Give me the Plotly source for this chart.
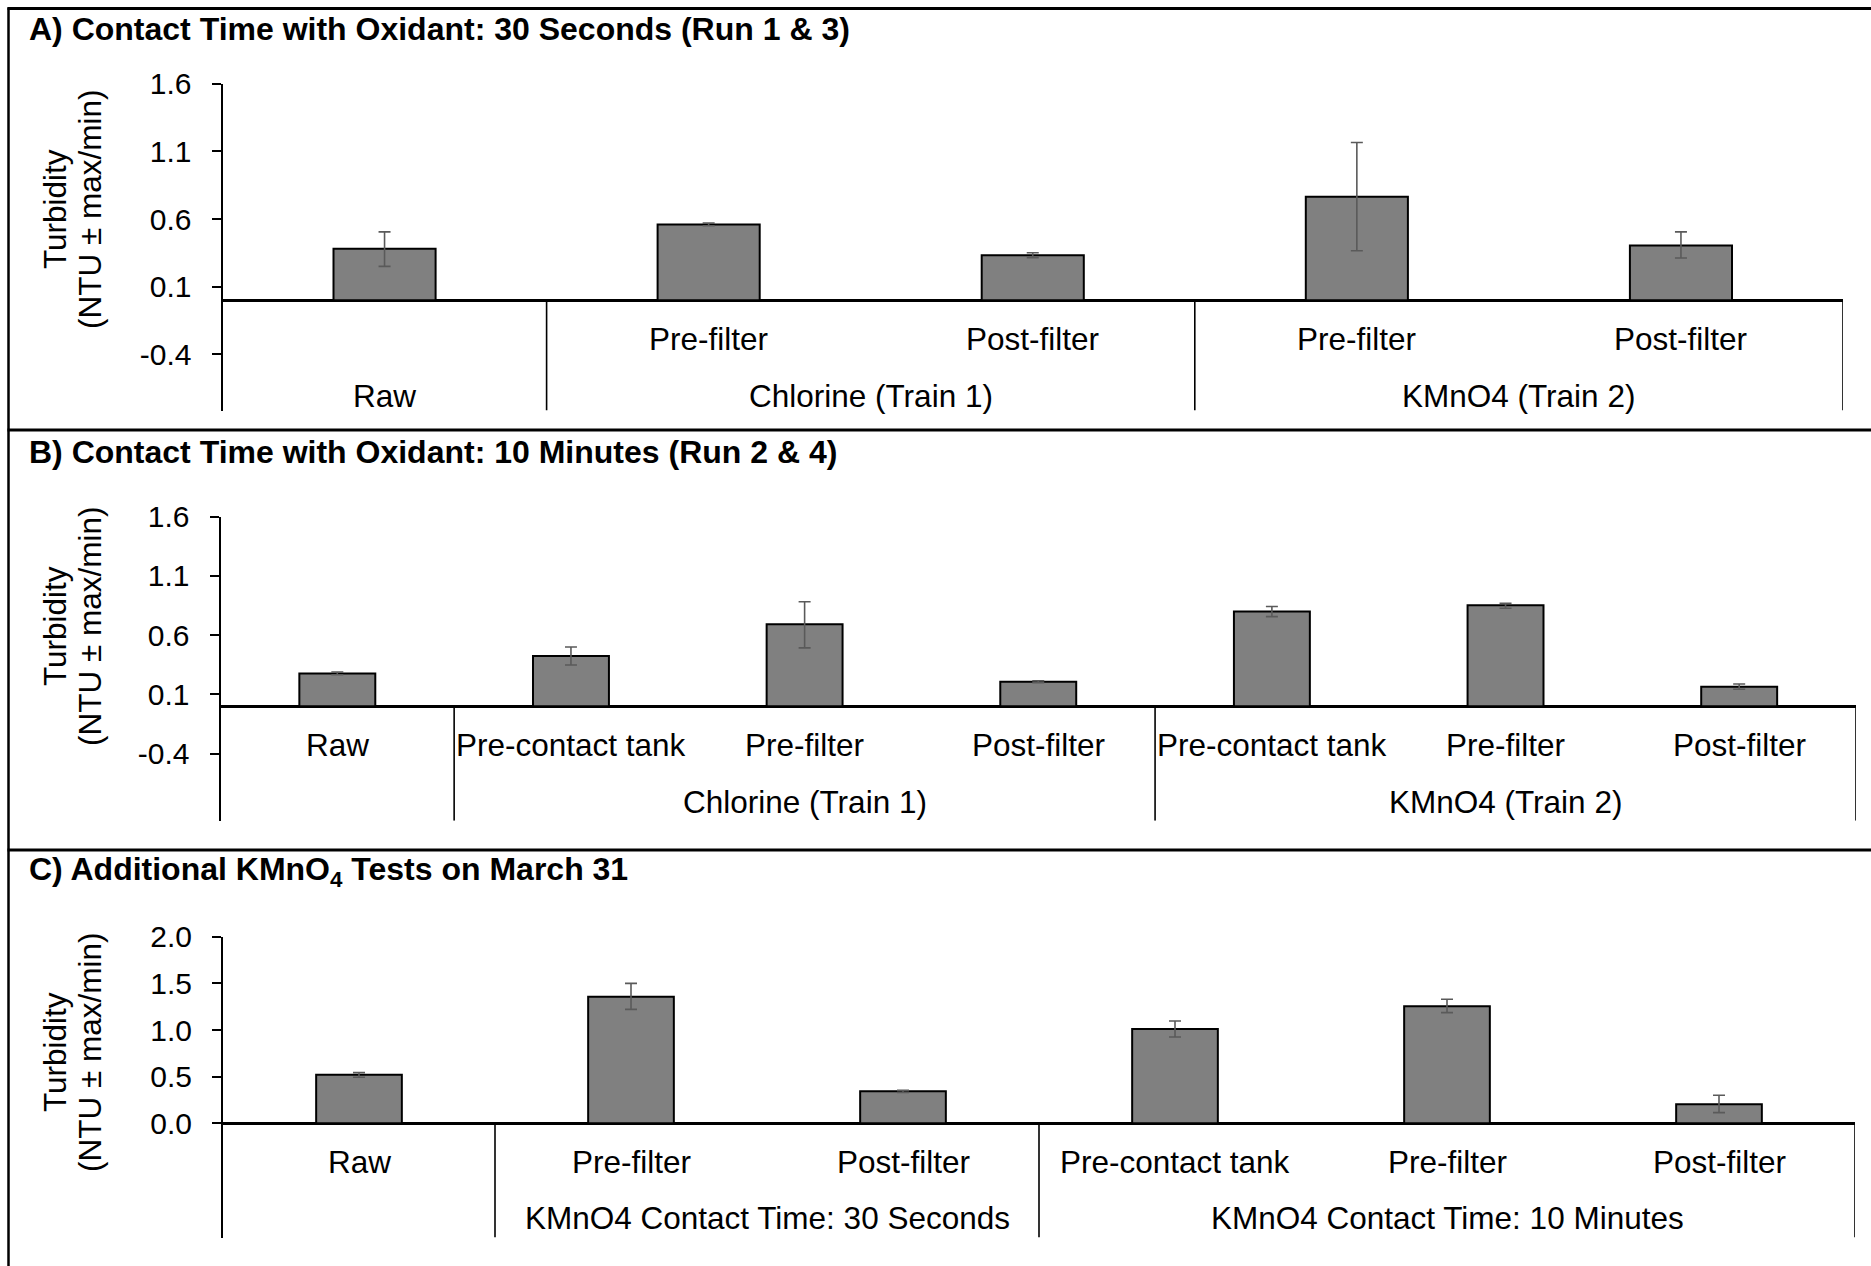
import plotly.graph_objects as go

W, H = 1871, 1266
FONT = "Liberation Sans, Arial, sans-serif"

# ---------------- Data ----------------
# Panel A: Contact time 30 s (Run 1 & 3)
a_title = "<b>A) Contact Time with Oxidant: 30 Seconds (Run 1 &amp; 3)</b>"
a_labels = ["Raw", "Pre-filter", "Post-filter", "Pre-filter", "Post-filter"]
a_groups = ["Chlorine (Train 1)", "KMnO4 (Train 2)"]
a_members = [[1, 2], [3, 4]]
a_values = [0.38, 0.56, 0.333, 0.765, 0.405]
a_plus = [0.125, 0.01, 0.018, 0.40, 0.10]
a_minus = [0.13, 0.01, 0.018, 0.40, 0.093]
a_ticks = [-0.4, 0.1, 0.6, 1.1, 1.6]
a_ticktext = ["-0.4", "0.1", "0.6", "1.1", "1.6"]

# Panel B: Contact time 10 min (Run 2 & 4)
b_title = "<b>B) Contact Time with Oxidant: 10 Minutes (Run 2 &amp; 4)</b>"
b_labels = ["Raw", "Pre-contact tank", "Pre-filter", "Post-filter",
            "Pre-contact tank", "Pre-filter", "Post-filter"]
b_groups = ["Chlorine (Train 1)", "KMnO4 (Train 2)"]
b_members = [[1, 2, 3], [4, 5, 6]]
b_values = [0.277, 0.424, 0.692, 0.207, 0.80, 0.852, 0.165]
b_plus = [0.012, 0.076, 0.19, 0.008, 0.042, 0.017, 0.022]
b_minus = [0.012, 0.076, 0.20, 0.008, 0.044, 0.025, 0.022]
b_ticks = [-0.4, 0.1, 0.6, 1.1, 1.6]
b_ticktext = ["-0.4", "0.1", "0.6", "1.1", "1.6"]

# Panel C: Additional KMnO4 tests on March 31
c_title = "<b>C) Additional KMnO<sub>4</sub> Tests on March 31</b>"
c_labels = ["Raw", "Pre-filter", "Post-filter",
            "Pre-contact tank", "Pre-filter", "Post-filter"]
c_groups = ["KMnO4 Contact Time: 30 Seconds", "KMnO4 Contact Time: 10 Minutes"]
c_members = [[1, 2], [3, 4, 5]]
c_values = [0.521, 1.357, 0.343, 1.011, 1.254, 0.204]
c_plus = [0.022, 0.143, 0.012, 0.085, 0.075, 0.096]
c_minus = [0.028, 0.136, 0.012, 0.086, 0.068, 0.09]
c_ticks = [0.0, 0.5, 1.0, 1.5, 2.0]
c_ticktext = ["0.0", "0.5", "1.0", "1.5", "2.0"]

y_title_1 = "Turbidity"
y_title_2 = "(NTU ± max/min)"

# ---------------- Layout geometry (pixels) ----------------
panels = [
    dict(title=a_title, labels=a_labels, groups=a_groups, members=a_members,
         values=a_values, plus=a_plus, minus=a_minus, ticks=a_ticks, ticktext=a_ticktext,
         x0=222.5, x1=1843, ytop=83.7, ybot=410.5, yr=[-0.815, 1.6],
         title_y=28.7, rows=(339, 396), raw_row=2, ytitle_y=209, bw=0.315),
    dict(title=b_title, labels=b_labels, groups=b_groups, members=b_members,
         values=b_values, plus=b_plus, minus=b_minus, ticks=b_ticks, ticktext=b_ticktext,
         x0=220.5, x1=1856, ytop=516.7, ybot=820.7, yr=[-0.967, 1.6],
         title_y=451.5, rows=(745, 802), raw_row=1, ytitle_y=626, bw=0.325),
    dict(title=c_title, labels=c_labels, groups=c_groups, members=c_members,
         values=c_values, plus=c_plus, minus=c_minus, ticks=c_ticks, ticktext=c_ticktext,
         x0=223, x1=1855, ytop=936.7, ybot=1237.5, yr=[-1.224, 2.0],
         title_y=871, rows=(1161.5, 1218), raw_row=1, ytitle_y=1052, bw=0.315),
]


def fx(x):
    return x / W


def fy(y):
    return 1 - y / H


fig = go.Figure()
shapes = []
annotations = []
layout_axes = {}

for i, p in enumerate(panels, start=1):
    xn = "x" if i == 1 else f"x{i}"
    yn = "y" if i == 1 else f"y{i}"
    xkey = "xaxis" if i == 1 else f"xaxis{i}"
    ykey = "yaxis" if i == 1 else f"yaxis{i}"
    n = len(p["labels"])
    xs = list(range(n))

    fig.add_trace(go.Bar(
        x=xs, y=p["values"], width=p["bw"],
        marker=dict(color="#808080", line=dict(color="black", width=2)),
        error_y=dict(type="data", symmetric=False, array=p["plus"], arrayminus=p["minus"],
                     color="#5a5a5a", thickness=1.6, width=6),
        xaxis=xn, yaxis=yn, showlegend=False, hoverinfo="skip",
    ))

    layout_axes[xkey] = dict(domain=[fx(p["x0"]), fx(p["x1"])], range=[-0.5, n - 0.5],
                             visible=False, anchor=yn, fixedrange=True, automargin=False)
    layout_axes[ykey] = dict(domain=[fy(p["ybot"]), fy(p["ytop"])], range=p["yr"],
                             anchor=xn, tickmode="array", tickvals=p["ticks"],
                             ticktext=p["ticktext"], ticks="outside", ticklen=9,
                             tickwidth=2, tickcolor="black", showline=True,
                             linecolor="black", linewidth=2, showgrid=False,
                             zeroline=True, zerolinecolor="black", zerolinewidth=2.6,
                             tickfont=dict(family=FONT, size=30, color="black"),
                             ticklabelstandoff=14, fixedrange=True, automargin=False)

    # category separators (multi-level axis)
    seps = [0.5] + [m[-1] + 0.5 for m in p["members"]]
    for s in seps:
        shapes.append(dict(type="line", xref=xn, yref=yn, x0=s, x1=s, y0=0, y1=p["yr"][0],
                           line=dict(color="black", width=1.6)))

    # category labels
    for k, lab in enumerate(p["labels"]):
        row = p["raw_row"] if k == 0 else 1
        annotations.append(dict(text=lab, xref=xn, x=k, yref="paper", y=fy(p["rows"][row - 1]),
                                showarrow=False, xanchor="center", yanchor="middle",
                                font=dict(family=FONT, size=31.5, color="black")))
    # group labels
    for g, mem in zip(p["groups"], p["members"]):
        annotations.append(dict(text=g, xref=xn, x=sum(mem) / len(mem), yref="paper",
                                y=fy(p["rows"][1]), showarrow=False, xanchor="center",
                                yanchor="middle",
                                font=dict(family=FONT, size=31.5, color="black")))

    # panel title
    annotations.append(dict(text=p["title"], xref="paper", x=fx(27), yref="paper",
                            y=fy(p["title_y"]), showarrow=False, xanchor="left",
                            yanchor="middle", font=dict(family=FONT, size=32, color="black")))
    # y-axis title (two lines)
    for txt, xc in ((y_title_1, 55), (y_title_2, 90)):
        annotations.append(dict(text=txt, xref="paper", x=fx(xc), yref="paper",
                                y=fy(p["ytitle_y"]), showarrow=False, textangle=-90,
                                xanchor="center", yanchor="middle",
                                font=dict(family=FONT, size=31.5, color="black")))

# panel borders
for yb in (8.5, 430, 850):
    shapes.append(dict(type="line", xref="paper", yref="paper", x0=fx(7.5), x1=1.01,
                       y0=fy(yb), y1=fy(yb), line=dict(color="black", width=3)))
shapes.append(dict(type="line", xref="paper", yref="paper", x0=fx(8.5), x1=fx(8.5),
                   y0=fy(7.5), y1=-0.01, line=dict(color="black", width=2.5)))

fig.update_layout(
    template="none",
    width=W, height=H, margin=dict(l=0, r=0, t=0, b=0, pad=0, autoexpand=False),
    paper_bgcolor="white", plot_bgcolor="white",
    showlegend=False, shapes=shapes, annotations=annotations,
    **layout_axes,
)

fig.write_html("out.html", config={"displayModeBar": False})
